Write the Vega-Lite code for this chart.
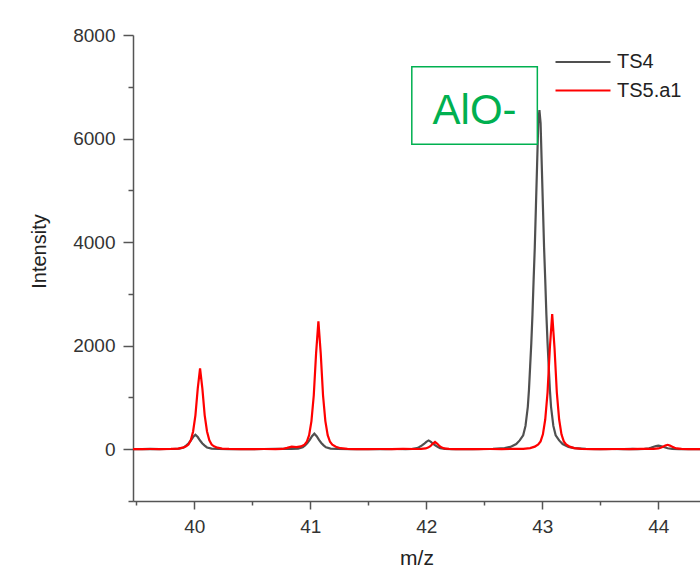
{
  "$schema": "https://vega.github.io/schema/vega-lite/v6.json",
  "width": 567,
  "height": 466,
  "autosize": {"type": "none"},
  "padding": {"left": 133, "top": 35, "right": 0, "bottom": 69},
  "config": {"view": {"stroke": null}, "font": "Liberation Sans"},
  "datasets": {
    "spectra": [
      {"series": "TS4", "mz": 39.47, "intensity": 0},
      {"series": "TS4", "mz": 39.55, "intensity": 3},
      {"series": "TS4", "mz": 39.62, "intensity": 6},
      {"series": "TS4", "mz": 39.7, "intensity": 2},
      {"series": "TS4", "mz": 39.76, "intensity": 4},
      {"series": "TS4", "mz": 39.81, "intensity": 4},
      {"series": "TS4", "mz": 39.87, "intensity": 11},
      {"series": "TS4", "mz": 39.91, "intensity": 34},
      {"series": "TS4", "mz": 39.93, "intensity": 69},
      {"series": "TS4", "mz": 39.95, "intensity": 112},
      {"series": "TS4", "mz": 39.97, "intensity": 168},
      {"series": "TS4", "mz": 39.99, "intensity": 235},
      {"series": "TS4", "mz": 40.01, "intensity": 280},
      {"series": "TS4", "mz": 40.03, "intensity": 235},
      {"series": "TS4", "mz": 40.05, "intensity": 168},
      {"series": "TS4", "mz": 40.07, "intensity": 112},
      {"series": "TS4", "mz": 40.09, "intensity": 69},
      {"series": "TS4", "mz": 40.11, "intensity": 34},
      {"series": "TS4", "mz": 40.15, "intensity": 11},
      {"series": "TS4", "mz": 40.21, "intensity": 4},
      {"series": "TS4", "mz": 40.3, "intensity": 2},
      {"series": "TS4", "mz": 40.4, "intensity": 3},
      {"series": "TS4", "mz": 40.5, "intensity": 2},
      {"series": "TS4", "mz": 40.6, "intensity": 4},
      {"series": "TS4", "mz": 40.7, "intensity": 5},
      {"series": "TS4", "mz": 40.77, "intensity": 8},
      {"series": "TS4", "mz": 40.835, "intensity": 6},
      {"series": "TS4", "mz": 40.895, "intensity": 12},
      {"series": "TS4", "mz": 40.935, "intensity": 37},
      {"series": "TS4", "mz": 40.955, "intensity": 74},
      {"series": "TS4", "mz": 40.975, "intensity": 120},
      {"series": "TS4", "mz": 40.995, "intensity": 180},
      {"series": "TS4", "mz": 41.015, "intensity": 252},
      {"series": "TS4", "mz": 41.035, "intensity": 300},
      {"series": "TS4", "mz": 41.055, "intensity": 252},
      {"series": "TS4", "mz": 41.075, "intensity": 180},
      {"series": "TS4", "mz": 41.095, "intensity": 120},
      {"series": "TS4", "mz": 41.115, "intensity": 74},
      {"series": "TS4", "mz": 41.135, "intensity": 37},
      {"series": "TS4", "mz": 41.175, "intensity": 12},
      {"series": "TS4", "mz": 41.235, "intensity": 5},
      {"series": "TS4", "mz": 41.35, "intensity": 2},
      {"series": "TS4", "mz": 41.5, "intensity": 3},
      {"series": "TS4", "mz": 41.65, "intensity": 2},
      {"series": "TS4", "mz": 41.75, "intensity": 4},
      {"series": "TS4", "mz": 41.82, "intensity": 3},
      {"series": "TS4", "mz": 41.88, "intensity": 7},
      {"series": "TS4", "mz": 41.92, "intensity": 21},
      {"series": "TS4", "mz": 41.94, "intensity": 42},
      {"series": "TS4", "mz": 41.96, "intensity": 68},
      {"series": "TS4", "mz": 41.98, "intensity": 102},
      {"series": "TS4", "mz": 42.0, "intensity": 143},
      {"series": "TS4", "mz": 42.02, "intensity": 170},
      {"series": "TS4", "mz": 42.04, "intensity": 143},
      {"series": "TS4", "mz": 42.06, "intensity": 102},
      {"series": "TS4", "mz": 42.08, "intensity": 68},
      {"series": "TS4", "mz": 42.1, "intensity": 42},
      {"series": "TS4", "mz": 42.12, "intensity": 21},
      {"series": "TS4", "mz": 42.16, "intensity": 7},
      {"series": "TS4", "mz": 42.22, "intensity": 3},
      {"series": "TS4", "mz": 42.3, "intensity": 2},
      {"series": "TS4", "mz": 42.4, "intensity": 3},
      {"series": "TS4", "mz": 42.5, "intensity": 4},
      {"series": "TS4", "mz": 42.575, "intensity": 5},
      {"series": "TS4", "mz": 42.675, "intensity": 20},
      {"series": "TS4", "mz": 42.725, "intensity": 45},
      {"series": "TS4", "mz": 42.775, "intensity": 100},
      {"series": "TS4", "mz": 42.805, "intensity": 170},
      {"series": "TS4", "mz": 42.835, "intensity": 270},
      {"series": "TS4", "mz": 42.855, "intensity": 450},
      {"series": "TS4", "mz": 42.875, "intensity": 820},
      {"series": "TS4", "mz": 42.885, "intensity": 1150},
      {"series": "TS4", "mz": 42.895, "intensity": 1600},
      {"series": "TS4", "mz": 42.905, "intensity": 2050},
      {"series": "TS4", "mz": 42.915, "intensity": 2600},
      {"series": "TS4", "mz": 42.925, "intensity": 3275},
      {"series": "TS4", "mz": 42.935, "intensity": 3900},
      {"series": "TS4", "mz": 42.945, "intensity": 4700},
      {"series": "TS4", "mz": 42.955, "intensity": 5500},
      {"series": "TS4", "mz": 42.965, "intensity": 6300},
      {"series": "TS4", "mz": 42.975, "intensity": 6550},
      {"series": "TS4", "mz": 42.985, "intensity": 6300},
      {"series": "TS4", "mz": 42.995, "intensity": 5500},
      {"series": "TS4", "mz": 43.005, "intensity": 4700},
      {"series": "TS4", "mz": 43.015, "intensity": 3900},
      {"series": "TS4", "mz": 43.025, "intensity": 3275},
      {"series": "TS4", "mz": 43.035, "intensity": 2600},
      {"series": "TS4", "mz": 43.045, "intensity": 2050},
      {"series": "TS4", "mz": 43.055, "intensity": 1600},
      {"series": "TS4", "mz": 43.065, "intensity": 1150},
      {"series": "TS4", "mz": 43.075, "intensity": 820},
      {"series": "TS4", "mz": 43.095, "intensity": 450},
      {"series": "TS4", "mz": 43.115, "intensity": 270},
      {"series": "TS4", "mz": 43.145, "intensity": 170},
      {"series": "TS4", "mz": 43.175, "intensity": 100},
      {"series": "TS4", "mz": 43.225, "intensity": 45},
      {"series": "TS4", "mz": 43.275, "intensity": 20},
      {"series": "TS4", "mz": 43.375, "intensity": 5},
      {"series": "TS4", "mz": 43.5, "intensity": 3},
      {"series": "TS4", "mz": 43.6, "intensity": 4},
      {"series": "TS4", "mz": 43.7, "intensity": 2},
      {"series": "TS4", "mz": 43.78, "intensity": 5},
      {"series": "TS4", "mz": 43.82, "intensity": 2},
      {"series": "TS4", "mz": 43.88, "intensity": 6},
      {"series": "TS4", "mz": 43.92, "intensity": 18},
      {"series": "TS4", "mz": 43.94, "intensity": 32},
      {"series": "TS4", "mz": 43.96, "intensity": 48},
      {"series": "TS4", "mz": 43.98, "intensity": 62},
      {"series": "TS4", "mz": 44.0, "intensity": 70},
      {"series": "TS4", "mz": 44.02, "intensity": 62},
      {"series": "TS4", "mz": 44.04, "intensity": 48},
      {"series": "TS4", "mz": 44.06, "intensity": 32},
      {"series": "TS4", "mz": 44.08, "intensity": 18},
      {"series": "TS4", "mz": 44.12, "intensity": 6},
      {"series": "TS4", "mz": 44.18, "intensity": 2},
      {"series": "TS4", "mz": 44.26, "intensity": 3},
      {"series": "TS4", "mz": 44.36, "intensity": 2},
      {"series": "TS5.a1", "mz": 39.47, "intensity": 0},
      {"series": "TS5.a1", "mz": 39.55, "intensity": 2},
      {"series": "TS5.a1", "mz": 39.62, "intensity": 4},
      {"series": "TS5.a1", "mz": 39.7, "intensity": 3},
      {"series": "TS5.a1", "mz": 39.8, "intensity": 5},
      {"series": "TS5.a1", "mz": 39.86, "intensity": 12},
      {"series": "TS5.a1", "mz": 39.9, "intensity": 30},
      {"series": "TS5.a1", "mz": 39.93, "intensity": 56},
      {"series": "TS5.a1", "mz": 39.95, "intensity": 90},
      {"series": "TS5.a1", "mz": 39.97, "intensity": 172},
      {"series": "TS5.a1", "mz": 39.99, "intensity": 343},
      {"series": "TS5.a1", "mz": 40.01, "intensity": 655},
      {"series": "TS5.a1", "mz": 40.03, "intensity": 1170},
      {"series": "TS5.a1", "mz": 40.05, "intensity": 1560},
      {"series": "TS5.a1", "mz": 40.07, "intensity": 1170},
      {"series": "TS5.a1", "mz": 40.09, "intensity": 655},
      {"series": "TS5.a1", "mz": 40.11, "intensity": 343},
      {"series": "TS5.a1", "mz": 40.13, "intensity": 172},
      {"series": "TS5.a1", "mz": 40.15, "intensity": 90},
      {"series": "TS5.a1", "mz": 40.17, "intensity": 56},
      {"series": "TS5.a1", "mz": 40.2, "intensity": 30},
      {"series": "TS5.a1", "mz": 40.24, "intensity": 12},
      {"series": "TS5.a1", "mz": 40.3, "intensity": 5},
      {"series": "TS5.a1", "mz": 40.4, "intensity": 3},
      {"series": "TS5.a1", "mz": 40.5, "intensity": 2},
      {"series": "TS5.a1", "mz": 40.6, "intensity": 4},
      {"series": "TS5.a1", "mz": 40.7, "intensity": 3},
      {"series": "TS5.a1", "mz": 40.76, "intensity": 5},
      {"series": "TS5.a1", "mz": 40.8, "intensity": 25},
      {"series": "TS5.a1", "mz": 40.84, "intensity": 50},
      {"series": "TS5.a1", "mz": 40.88, "intensity": 40},
      {"series": "TS5.a1", "mz": 40.92, "intensity": 55},
      {"series": "TS5.a1", "mz": 40.95, "intensity": 89},
      {"series": "TS5.a1", "mz": 40.97, "intensity": 143},
      {"series": "TS5.a1", "mz": 40.99, "intensity": 272},
      {"series": "TS5.a1", "mz": 41.01, "intensity": 543},
      {"series": "TS5.a1", "mz": 41.03, "intensity": 1037},
      {"series": "TS5.a1", "mz": 41.05, "intensity": 1850},
      {"series": "TS5.a1", "mz": 41.07, "intensity": 2470},
      {"series": "TS5.a1", "mz": 41.09, "intensity": 1850},
      {"series": "TS5.a1", "mz": 41.11, "intensity": 1037},
      {"series": "TS5.a1", "mz": 41.13, "intensity": 543},
      {"series": "TS5.a1", "mz": 41.15, "intensity": 272},
      {"series": "TS5.a1", "mz": 41.17, "intensity": 143},
      {"series": "TS5.a1", "mz": 41.19, "intensity": 89},
      {"series": "TS5.a1", "mz": 41.22, "intensity": 47},
      {"series": "TS5.a1", "mz": 41.26, "intensity": 20},
      {"series": "TS5.a1", "mz": 41.32, "intensity": 7},
      {"series": "TS5.a1", "mz": 41.4, "intensity": 3},
      {"series": "TS5.a1", "mz": 41.5, "intensity": 2},
      {"series": "TS5.a1", "mz": 41.6, "intensity": 4},
      {"series": "TS5.a1", "mz": 41.7, "intensity": 3},
      {"series": "TS5.a1", "mz": 41.8, "intensity": 5},
      {"series": "TS5.a1", "mz": 41.9, "intensity": 4},
      {"series": "TS5.a1", "mz": 41.955, "intensity": 5},
      {"series": "TS5.a1", "mz": 41.995, "intensity": 15},
      {"series": "TS5.a1", "mz": 42.015, "intensity": 31},
      {"series": "TS5.a1", "mz": 42.035, "intensity": 59},
      {"series": "TS5.a1", "mz": 42.055, "intensity": 105},
      {"series": "TS5.a1", "mz": 42.075, "intensity": 140},
      {"series": "TS5.a1", "mz": 42.095, "intensity": 105},
      {"series": "TS5.a1", "mz": 42.115, "intensity": 59},
      {"series": "TS5.a1", "mz": 42.135, "intensity": 31},
      {"series": "TS5.a1", "mz": 42.155, "intensity": 15},
      {"series": "TS5.a1", "mz": 42.195, "intensity": 5},
      {"series": "TS5.a1", "mz": 42.255, "intensity": 2},
      {"series": "TS5.a1", "mz": 42.35, "intensity": 3},
      {"series": "TS5.a1", "mz": 42.45, "intensity": 2},
      {"series": "TS5.a1", "mz": 42.55, "intensity": 4},
      {"series": "TS5.a1", "mz": 42.65, "intensity": 3},
      {"series": "TS5.a1", "mz": 42.75, "intensity": 5},
      {"series": "TS5.a1", "mz": 42.835, "intensity": 8},
      {"series": "TS5.a1", "mz": 42.895, "intensity": 21},
      {"series": "TS5.a1", "mz": 42.935, "intensity": 50},
      {"series": "TS5.a1", "mz": 42.965, "intensity": 94},
      {"series": "TS5.a1", "mz": 42.985, "intensity": 151},
      {"series": "TS5.a1", "mz": 43.005, "intensity": 287},
      {"series": "TS5.a1", "mz": 43.025, "intensity": 574},
      {"series": "TS5.a1", "mz": 43.045, "intensity": 1096},
      {"series": "TS5.a1", "mz": 43.065, "intensity": 1960},
      {"series": "TS5.a1", "mz": 43.085, "intensity": 2610},
      {"series": "TS5.a1", "mz": 43.105, "intensity": 1960},
      {"series": "TS5.a1", "mz": 43.125, "intensity": 1096},
      {"series": "TS5.a1", "mz": 43.145, "intensity": 574},
      {"series": "TS5.a1", "mz": 43.165, "intensity": 287},
      {"series": "TS5.a1", "mz": 43.185, "intensity": 151},
      {"series": "TS5.a1", "mz": 43.205, "intensity": 94},
      {"series": "TS5.a1", "mz": 43.235, "intensity": 50},
      {"series": "TS5.a1", "mz": 43.275, "intensity": 21},
      {"series": "TS5.a1", "mz": 43.335, "intensity": 8},
      {"series": "TS5.a1", "mz": 43.45, "intensity": 3},
      {"series": "TS5.a1", "mz": 43.55, "intensity": 2},
      {"series": "TS5.a1", "mz": 43.65, "intensity": 4},
      {"series": "TS5.a1", "mz": 43.75, "intensity": 3},
      {"series": "TS5.a1", "mz": 43.85, "intensity": 5},
      {"series": "TS5.a1", "mz": 43.96, "intensity": 5},
      {"series": "TS5.a1", "mz": 44.0, "intensity": 15},
      {"series": "TS5.a1", "mz": 44.02, "intensity": 30},
      {"series": "TS5.a1", "mz": 44.04, "intensity": 50},
      {"series": "TS5.a1", "mz": 44.06, "intensity": 70},
      {"series": "TS5.a1", "mz": 44.08, "intensity": 85},
      {"series": "TS5.a1", "mz": 44.1, "intensity": 70},
      {"series": "TS5.a1", "mz": 44.12, "intensity": 50},
      {"series": "TS5.a1", "mz": 44.14, "intensity": 30},
      {"series": "TS5.a1", "mz": 44.16, "intensity": 15},
      {"series": "TS5.a1", "mz": 44.2, "intensity": 5},
      {"series": "TS5.a1", "mz": 44.26, "intensity": 2},
      {"series": "TS5.a1", "mz": 44.36, "intensity": 3}
    ],
    "annotation": [
      {"label": "AlO-", "x1": 41.875, "x2": 42.957, "y1": 5888, "y2": 7388, "tx": 42.416, "ty": 6274}
    ]
  },
  "layer": [
    {
      "data": {"name": "spectra"},
      "mark": {"type": "line", "strokeWidth": 2.2, "clip": true},
      "encoding": {
        "x": {
          "field": "mz",
          "type": "quantitative",
          "scale": {"domain": [39.472, 44.359], "nice": false, "zero": false},
          "axis": {
            "title": "m/z",
            "values": [39.5, 40, 40.5, 41, 41.5, 42, 42.5, 43, 43.5, 44],
            "labelExpr": "datum.value % 1 == 0 ? format(datum.value, 'd') : ''",
            "tickSize": {"condition": {"test": "datum.value % 1 != 0", "value": 4}, "value": 8},
            "labelPadding": 8,
            "labelFlush": false,
            "labelOverlap": false,
            "grid": false,
            "domainColor": "#555555",
            "domainWidth": 1.5,
            "tickColor": "#555555",
            "tickWidth": 1.5,
            "labelFontSize": 19,
            "labelColor": "#333333",
            "titleFontSize": 21,
            "titleFontWeight": "normal",
            "titleColor": "#222222",
            "titlePadding": 11
          }
        },
        "y": {
          "field": "intensity",
          "type": "quantitative",
          "scale": {"domain": [-1000, 8000], "nice": false, "zero": false},
          "axis": {
            "title": "Intensity",
            "values": [-1000, 0, 1000, 2000, 3000, 4000, 5000, 6000, 7000, 8000],
            "labelExpr": "datum.value % 2000 == 0 ? format(datum.value, 'd') : ''",
            "tickSize": {"condition": {"test": "datum.value % 2000 != 0", "value": 5}, "value": 10},
            "labelPadding": 8,
            "labelFlush": false,
            "labelOverlap": false,
            "grid": false,
            "domainColor": "#555555",
            "domainWidth": 1.5,
            "tickColor": "#555555",
            "tickWidth": 1.5,
            "labelFontSize": 19,
            "labelColor": "#333333",
            "titleFontSize": 20,
            "titleFontWeight": "normal",
            "titleColor": "#222222",
            "titlePadding": 23,
            "titleY": 216
          }
        },
        "color": {
          "field": "series",
          "type": "nominal",
          "scale": {"domain": ["TS4", "TS5.a1"], "range": ["#505050", "#ff0000"]},
          "legend": {
            "title": null,
            "orient": "none",
            "legendX": 435,
            "legendY": 12,
            "symbolType": "M-2,0H2",
            "symbolSize": 756,
            "symbolStrokeWidth": 2.2,
            "labelFontSize": 20,
            "labelColor": "#222222",
            "labelOffset": 19,
            "rowPadding": 3.5
          }
        }
      }
    },
    {
      "data": {"name": "annotation"},
      "mark": {"type": "rect", "fill": "white", "stroke": "#00b050", "strokeWidth": 1.5},
      "encoding": {
        "x": {"field": "x1", "type": "quantitative"},
        "x2": {"field": "x2"},
        "y": {"field": "y1", "type": "quantitative"},
        "y2": {"field": "y2"}
      }
    },
    {
      "data": {"name": "annotation"},
      "mark": {"type": "text", "fontSize": 42, "color": "#00b050", "align": "center", "baseline": "alphabetic"},
      "encoding": {
        "x": {"field": "tx", "type": "quantitative"},
        "y": {"field": "ty", "type": "quantitative"},
        "text": {"field": "label"}
      }
    }
  ]
}
